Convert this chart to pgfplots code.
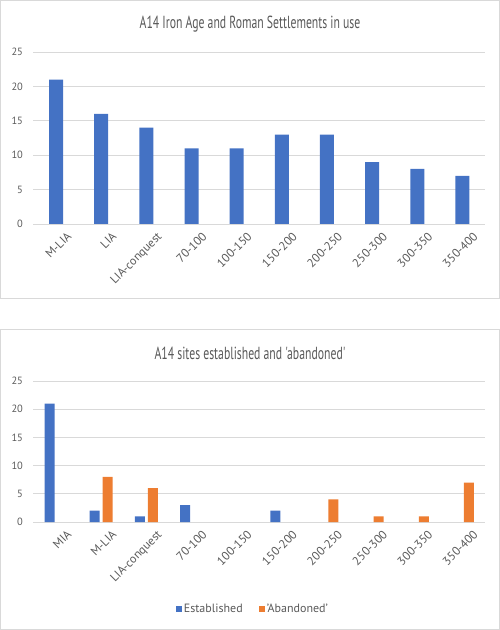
\documentclass[border=0pt]{standalone}
\usepackage{fontspec}
\setmainfont{PT Sans}
\newfontfamily\titlefont[FakeStretch=0.67]{PT Sans}
\usepackage{pgfplots}
\pgfplotsset{compat=1.18}
\definecolor{eblue}{HTML}{4472C4}
\definecolor{eorange}{HTML}{ED7D31}
\definecolor{txt}{HTML}{595959}
\definecolor{grd}{HTML}{D9D9D9}
\pgfplotsset{common/.style={
  scale only axis, width=451.5pt,
  xmin=-0.5, xmax=9.5, ymin=0, ymax=25,
  ytick={0,5,...,25}, xtick={0,...,9},
  ymajorgrids, grid style={grd, line width=0.8pt},
  axis line style={draw=none},
  major tick length=0pt,
  tick label style={txt},
  yticklabel style={font=\fontsize{10.5}{12}\selectfont},
  /pgf/number format/assume math mode=true,
  yticklabel style={xshift=-7pt},
  xticklabel style={font=\fontsize{12}{14}\selectfont, rotate=45, anchor=north east, inner sep=1pt, yshift=-11pt, xshift=3pt},
  ybar, clip=false,
}}
\begin{document}
\begin{tikzpicture}[x=1pt,y=1pt]
\path[use as bounding box] (0,0) rectangle (500,630);
\draw[grd, line width=0.8pt] (0.5,332) rectangle (499.5,629.5);
\draw[grd, line width=0.8pt] (0.5,0.5) rectangle (499.5,301);
\node[txt, font=\titlefont\fontsize{17.5}{20}\selectfont] at (250,606) {A14 Iron Age and Roman Settlements in use};
\node[txt, font=\titlefont\fontsize{17.5}{20}\selectfont] at (250,277) {A14 sites established and 'abandoned'};

\begin{axis}[common, height=172pt, at={(33.5pt,406pt)}, anchor=south west,
  xticklabels={M-LIA,LIA,LIA-conquest,70-100,100-150,150-200,200-250,250-300,300-350,350-400}]
\addplot[fill=eblue, draw=none, bar width=14pt] coordinates {
(0,21) (1,16) (2,14) (3,11) (4,11) (5,13) (6,13) (7,9) (8,8) (9,7)};
\end{axis}

\begin{axis}[common, height=141pt, at={(33.5pt,108pt)}, anchor=south west,
  xticklabels={MIA,M-LIA,LIA-conquest,70-100,100-150,150-200,200-250,250-300,300-350,350-400},
  legend style={at={(0.486,-0.617)}, anchor=center, draw=none, fill=none,
    legend columns=2, font=\fontsize{12}{14}\selectfont, text=txt,
    /tikz/every even column/.append style={column sep=14pt}},
  legend image code/.code={\fill[#1] (0pt,-3pt) rectangle (6pt,3pt);}]
% Established (zero values omitted: MIA=21, M-LIA=2, LIA-conquest=1, 70-100=3, 150-200=2)
\addplot[fill=eblue, draw=none, bar width=10pt, bar shift=-6.5pt] coordinates {
(0,21) (1,2) (2,1) (3,3) (5,2)};
\addlegendentry{Established}
% 'Abandoned' (zero values omitted)
\addplot[fill=eorange, draw=none, bar width=10pt, bar shift=6.5pt] coordinates {
(1,8) (2,6) (6,4) (7,1) (8,1) (9,7)};
\addlegendentry{'Abandoned'}
\end{axis}
\end{tikzpicture}
\end{document}
